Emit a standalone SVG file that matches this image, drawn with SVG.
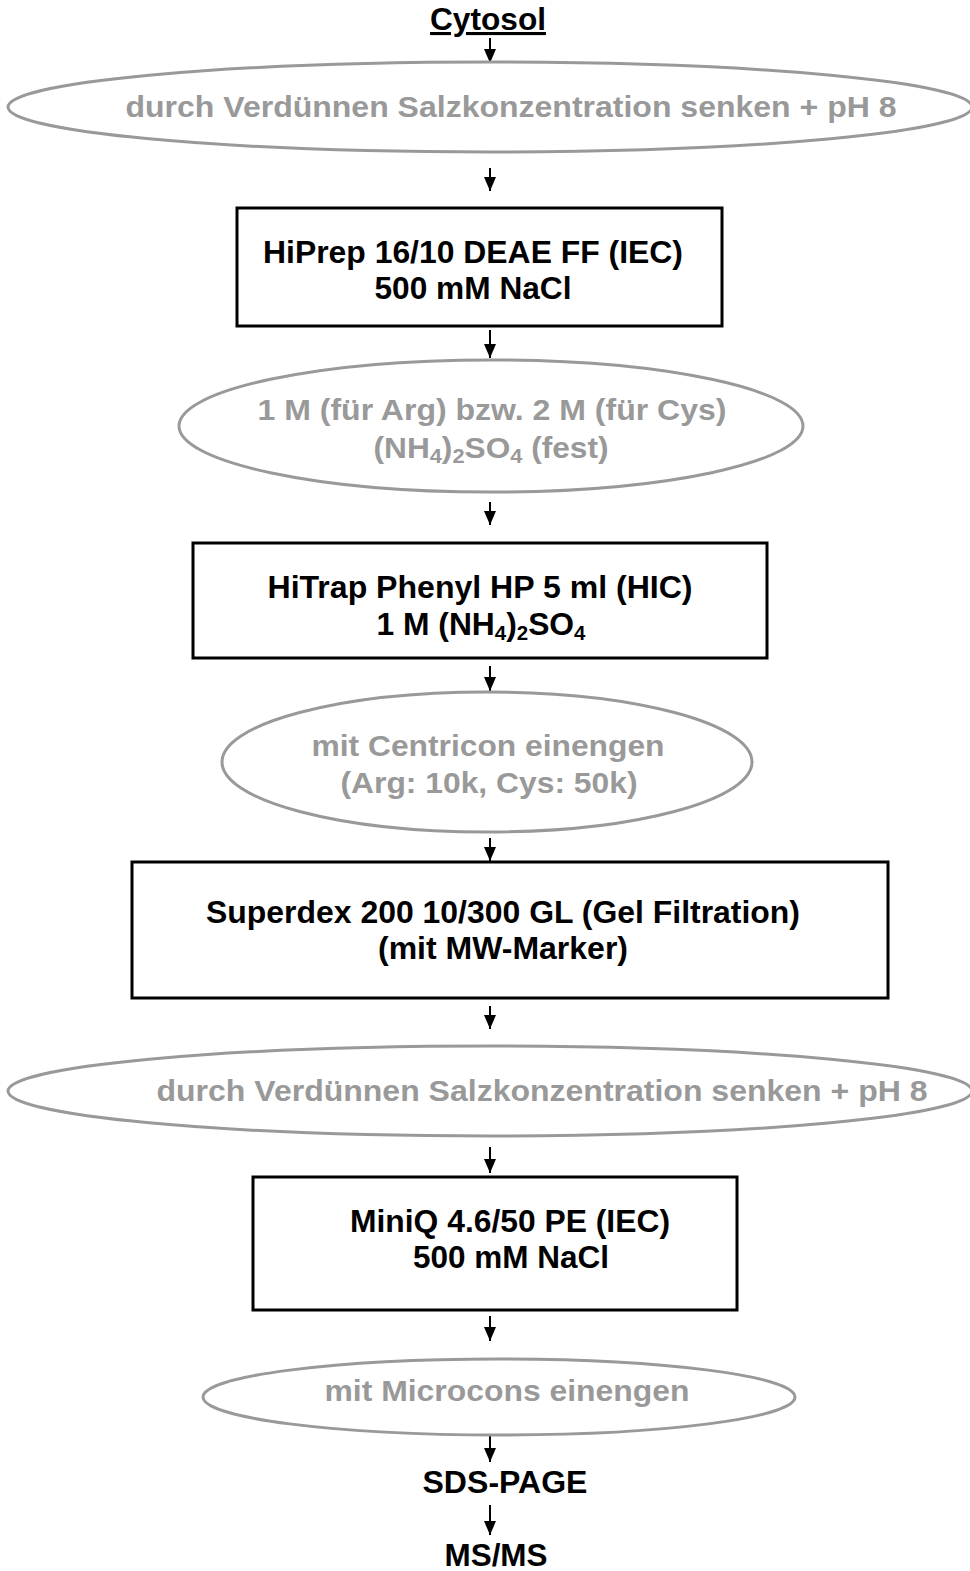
<svg xmlns="http://www.w3.org/2000/svg" width="970" height="1571" viewBox="0 0 970 1571">
<style>
.bx{fill:#fff;stroke:#000;stroke-width:3}
.el{fill:#fff;stroke:#999;stroke-width:3}
.t{font-family:"Liberation Sans",Arial,sans-serif;font-weight:bold;font-size:31px;text-anchor:middle;fill:#000}
.g{fill:#999;font-size:29px}
.s{font-size:20px}
.c{stroke:#000;stroke-width:2;fill:none;marker-end:url(#ah)}
</style>
<defs>
<marker id="ah" viewBox="0 0 14 12" refX="14" refY="6" markerWidth="7" markerHeight="6" markerUnits="strokeWidth" orient="auto">
<path d="M0,0 L14,6 L0,12 z" fill="#000"/>
</marker>
</defs>
<rect width="970" height="1571" fill="#fff"/>
<g id="connectors">
<line class="c" x1="490" y1="38" x2="490" y2="63"/>
<line class="c" x1="490" y1="168" x2="490" y2="191"/>
<line class="c" x1="490" y1="330" x2="490" y2="358"/>
<line class="c" x1="490" y1="502" x2="490" y2="525"/>
<line class="c" x1="490" y1="666" x2="490" y2="691"/>
<line class="c" x1="490" y1="838" x2="490" y2="861"/>
<line class="c" x1="490" y1="1006" x2="490" y2="1029"/>
<line class="c" x1="490" y1="1147" x2="490" y2="1173"/>
<line class="c" x1="490" y1="1316" x2="490" y2="1341"/>
<line class="c" x1="490" y1="1433" x2="490" y2="1462"/>
<line class="c" x1="490" y1="1505" x2="490" y2="1535"/>
</g>
<g id="n0"><text class="t" x="488" y="30" textLength="116" lengthAdjust="spacingAndGlyphs" text-decoration="underline">Cytosol</text></g>
<g id="n1"><ellipse class="el" cx="490" cy="107" rx="482" ry="45"/><text class="t g" x="511" y="117" textLength="771" lengthAdjust="spacingAndGlyphs">durch Verdünnen Salzkonzentration senken + pH 8</text></g>
<g id="n2"><rect class="bx" x="237" y="208" width="485" height="118"/><text class="t" x="473" y="263" textLength="420" lengthAdjust="spacingAndGlyphs">HiPrep 16/10 DEAE FF (IEC)</text><text class="t" x="473" y="299" textLength="197" lengthAdjust="spacingAndGlyphs">500 mM NaCl</text></g>
<g id="n3"><ellipse class="el" cx="491" cy="426" rx="312" ry="66"/><text class="t g" x="492" y="420" textLength="469" lengthAdjust="spacingAndGlyphs">1 M (für Arg) bzw. 2 M (für Cys)</text><text class="t g" x="491" y="458" textLength="235" lengthAdjust="spacingAndGlyphs">(NH<tspan class="s" dy="5">4</tspan><tspan dy="-5">)</tspan><tspan class="s" dy="5">2</tspan><tspan dy="-5">SO</tspan><tspan class="s" dy="5">4</tspan><tspan dy="-5"> (fest)</tspan></text></g>
<g id="n4"><rect class="bx" x="193" y="543" width="574" height="115"/><text class="t" x="480" y="598" textLength="425" lengthAdjust="spacingAndGlyphs">HiTrap Phenyl HP 5 ml (HIC)</text><text class="t" x="481" y="635" textLength="209" lengthAdjust="spacingAndGlyphs">1 M (NH<tspan class="s" dy="5">4</tspan><tspan dy="-5">)</tspan><tspan class="s" dy="5">2</tspan><tspan dy="-5">SO</tspan><tspan class="s" dy="5">4</tspan></text></g>
<g id="n5"><ellipse class="el" cx="487" cy="762" rx="265" ry="70"/><text class="t g" x="488" y="756" textLength="353" lengthAdjust="spacingAndGlyphs">mit Centricon einengen</text><text class="t g" x="489" y="793" textLength="297" lengthAdjust="spacingAndGlyphs">(Arg: 10k, Cys: 50k)</text></g>
<g id="n6"><rect class="bx" x="132" y="862" width="756" height="136"/><text class="t" x="503" y="923" textLength="594" lengthAdjust="spacingAndGlyphs">Superdex 200 10/300 GL (Gel Filtration)</text><text class="t" x="503" y="959" textLength="250" lengthAdjust="spacingAndGlyphs">(mit MW-Marker)</text></g>
<g id="n7"><ellipse class="el" cx="490" cy="1091" rx="482" ry="45"/><text class="t g" x="542" y="1101" textLength="771" lengthAdjust="spacingAndGlyphs">durch Verdünnen Salzkonzentration senken + pH 8</text></g>
<g id="n8"><rect class="bx" x="253" y="1177" width="484" height="133"/><text class="t" x="510" y="1232" textLength="320" lengthAdjust="spacingAndGlyphs">MiniQ 4.6/50 PE (IEC)</text><text class="t" x="511" y="1268" textLength="196" lengthAdjust="spacingAndGlyphs">500 mM NaCl</text></g>
<g id="n9"><ellipse class="el" cx="499" cy="1397" rx="296" ry="38"/><text class="t g" x="507" y="1401" textLength="365" lengthAdjust="spacingAndGlyphs">mit Microcons einengen</text></g>
<g id="n10"><text class="t" x="505" y="1493" textLength="165" lengthAdjust="spacingAndGlyphs">SDS-PAGE</text></g>
<g id="n11"><text class="t" x="496" y="1566" textLength="103" lengthAdjust="spacingAndGlyphs">MS/MS</text></g>
</svg>
